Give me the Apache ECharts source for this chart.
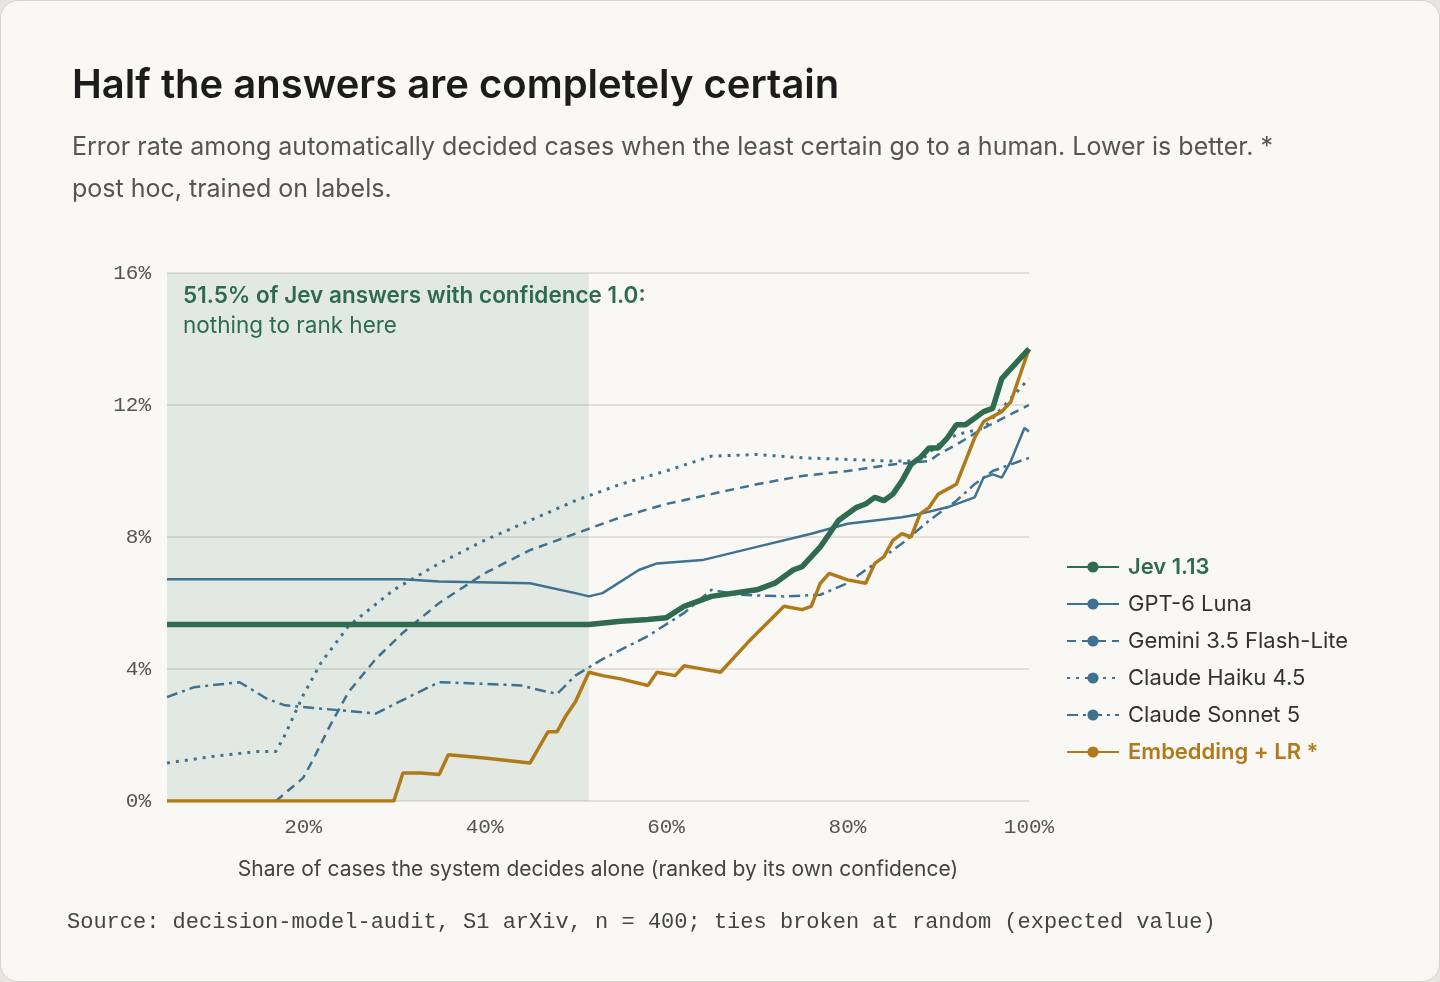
<!DOCTYPE html>
<html>
<head>
<meta charset="utf-8">
<script src="https://cdn.jsdelivr.net/npm/echarts@6/dist/echarts.min.js"></script>
<style>
  body { margin: 0; background: #e9e6df; }
  #card { position: absolute; left: 0; top: 0; width: 1438px; height: 980px; background: #f9f8f4;
          border: 1px solid #d8d4cc; border-radius: 18px; overflow: hidden; }
  #chart { width: 1438px; height: 980px; }
</style>
</head>
<body>
<div id="card"><div id="chart"></div></div>
<script>
// x = share decided alone (%), y = error rate (%)
var jev = [[5,5.35],[51.5,5.35],[55,5.45],[58,5.5],[60,5.55],[62,5.9],[65,6.2],[70,6.4],[72,6.6],[74,7.0],[75,7.1],[77,7.7],[78,8.1],[79,8.5],[81,8.9],[82,9.0],[83,9.2],[84,9.1],[85,9.3],[86,9.7],[87,10.2],[88,10.4],[89,10.7],[90,10.7],[91,11.0],[92,11.4],[93,11.4],[94,11.6],[95,11.8],[96,11.9],[97,12.8],[98,13.1],[100,13.7]];
var luna = [[5,6.72],[31,6.72],[35,6.65],[45,6.6],[50,6.3],[51.5,6.2],[53,6.3],[57,7.0],[59,7.2],[64,7.3],[70,7.7],[76,8.1],[80,8.4],[83,8.5],[86,8.6],[88,8.7],[91,8.9],[94,9.2],[95,9.8],[96,9.9],[97,9.8],[98,10.3],[99.5,11.3],[100,11.2]];
var gemini = [[17,0],[20,0.7],[21,1.2],[23,2.3],[25,3.3],[28,4.3],[31,5.1],[35,6.0],[40,6.9],[45,7.6],[50,8.1],[55,8.6],[60,9.0],[65,9.3],[70,9.6],[75,9.85],[80,10.0],[85,10.2],[89,10.3],[90,10.5],[92,10.8],[95,11.3],[100,12.0]];
var haiku = [[5,1.15],[10,1.35],[15,1.5],[17,1.5],[18,2.0],[20,3.2],[22,4.2],[25,5.3],[30,6.4],[35,7.2],[40,7.9],[45,8.5],[50,9.1],[55,9.6],[60,10.0],[65,10.45],[70,10.5],[75,10.4],[80,10.35],[85,10.3],[88,10.3],[90,10.8],[92,11.1],[95,11.3],[100,12.8]];
var sonnet = [[5,3.15],[8,3.45],[13,3.6],[16,3.1],[18,2.9],[24,2.75],[28,2.65],[32,3.2],[35,3.6],[40,3.55],[44,3.5],[47,3.3],[48,3.25],[50,3.8],[53,4.3],[58,5.0],[62,5.7],[65,6.4],[68,6.25],[73,6.2],[77,6.25],[80,6.6],[83,7.2],[86,7.8],[89,8.5],[92,9.1],[94,9.6],[96,10.0],[98,10.2],[100,10.4]];
var embLR = [[5,0],[30,0],[31,0.85],[33,0.85],[35,0.8],[36,1.4],[40,1.3],[45,1.15],[47,2.1],[48,2.1],[49,2.6],[50,3.0],[51.5,3.9],[53,3.8],[55,3.7],[58,3.5],[59,3.9],[61,3.8],[62,4.1],[63,4.05],[66,3.9],[69,4.8],[73,5.9],[75,5.8],[76,5.9],[77,6.6],[78,6.9],[80,6.7],[82,6.6],[83,7.2],[84,7.4],[85,7.9],[86,8.1],[87,8.0],[88,8.7],[89,8.9],[90,9.3],[92,9.6],[93,10.3],[94,11.0],[95,11.5],[97,11.8],[98,12.1],[99,12.9],[100,13.7]];
var xTicks = [20, 40, 60, 80, 100];
var certainShare = 51.5;

var green = '#2e6b4f', blue = '#3f7190', gold = '#b07a1a';
var mono = 'Liberation Mono';
var chart = echarts.init(document.getElementById('chart'));

function line(name, data, color, width, type) {
  return { name: name, type: 'line', data: data, symbol: 'none', smooth: false,
           lineStyle: { color: color, width: width, type: type }, itemStyle: { color: color } };
}

var series = [
  line('Jev 1.13', jev, green, 5.5, 'solid'),
  line('GPT-6 Luna', luna, blue, 2.5, 'solid'),
  line('Gemini 3.5 Flash-Lite', gemini, blue, 2.5, [9, 6]),
  line('Claude Haiku 4.5', haiku, blue, 3, [3, 6]),
  line('Claude Sonnet 5', sonnet, blue, 2.5, [11, 5, 3, 5]),
  line('Embedding + LR *', embLR, gold, 3.5, 'solid')
];
series[0].z = 5;
series[0].markArea = { silent: true, itemStyle: { color: 'rgba(46,107,79,0.11)' },
  data: [[{ xAxis: 5 }, { xAxis: certainShare }]] };

chart.setOption({
  animation: false,
  textStyle: { fontFamily: 'Inter' },
  title: [
    { text: 'Half the answers are completely certain', left: 66, top: 60,
      textStyle: { fontSize: 40, fontWeight: 600, color: '#1c1c1c', fontFamily: 'Inter' } },
    { text: 'Error rate among automatically decided cases when the least certain go to a human. Lower is better. *\npost hoc, trained on labels.',
      left: 66, top: 120, textStyle: { fontSize: 25, fontWeight: 400, color: '#555', lineHeight: 42, fontFamily: 'Inter' } }
  ],
  grid: { left: 166, right: 410, top: 272, bottom: 180 },
  xAxis: {
    type: 'value', min: 5, max: 100,
    name: 'Share of cases the system decides alone (ranked by its own confidence)',
    nameLocation: 'middle', nameGap: 58,
    nameTextStyle: { fontSize: 21, color: '#444', fontFamily: 'Inter' },
    axisLine: { show: false }, axisTick: { show: false }, splitLine: { show: false },
    axisLabel: { customValues: xTicks, formatter: '{value}%', fontSize: 21, color: '#555',
                 fontFamily: mono, margin: 16 }
  },
  yAxis: {
    type: 'value', min: 0, max: 16, interval: 4,
    axisLine: { show: false }, axisTick: { show: false },
    splitLine: { lineStyle: { color: '#dcd8d0', width: 1.5 } },
    axisLabel: { formatter: '{value}%', fontSize: 21, color: '#555', fontFamily: mono, margin: 16 }
  },
  legend: {
    orient: 'vertical', left: 1060, top: 550, itemWidth: 52, itemHeight: 14, itemGap: 15,
    textStyle: { fontSize: 22, color: '#333', fontFamily: 'Inter', padding: [0, 0, 0, 4] },
    data: [
      { name: 'Jev 1.13', textStyle: { color: green, fontWeight: 600 } },
      'GPT-6 Luna', 'Gemini 3.5 Flash-Lite', 'Claude Haiku 4.5', 'Claude Sonnet 5',
      { name: 'Embedding + LR *', textStyle: { color: gold, fontWeight: 600 } }
    ]
  },
  graphic: [
    { type: 'text', left: 182, top: 284, style: { text: '51.5% of Jev answers with confidence 1.0:',
      fill: green, fontSize: 22.5, fontWeight: 600, fontFamily: 'Inter' } },
    { type: 'text', left: 182, top: 314, style: { text: 'nothing to rank here',
      fill: green, fontSize: 22.5, fontFamily: 'Inter' } },
    { type: 'text', left: 66, top: 910, style: { text: 'Source: decision-model-audit, S1 arXiv, n = 400; ties broken at random (expected value)',
      fill: '#444', fontSize: 22, fontFamily: mono } }
  ],
  series: series
});
</script>
</body>
</html>
